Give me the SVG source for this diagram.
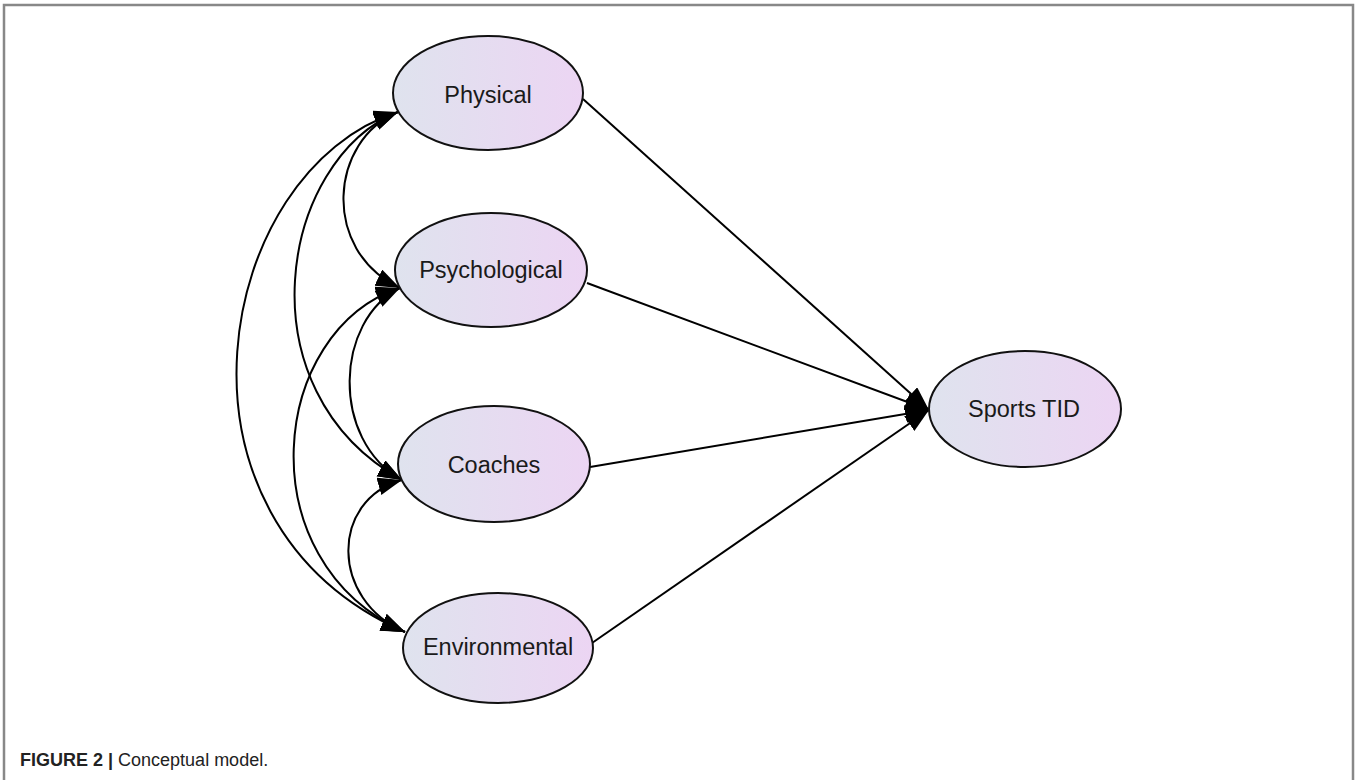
<svg xmlns="http://www.w3.org/2000/svg" width="1359" height="780" viewBox="0 0 1359 780">
<defs>
<linearGradient id="fillg" x1="0" y1="0" x2="1" y2="0">
<stop offset="0" stop-color="#dfe3ee"/>
<stop offset="1" stop-color="#ecd5f3"/>
</linearGradient>
<marker id="ah" markerUnits="userSpaceOnUse" markerWidth="26" markerHeight="20" refX="24" refY="9" orient="auto-start-reverse">
<path d="M0,0 L24,9 L0,18 z" fill="#000"/>
</marker>
<style>
.node ellipse{fill:url(#fillg);stroke:#111;stroke-width:2}
.node text{font-family:"Liberation Sans",Arial,sans-serif;font-size:23.5px;fill:#1a1a1a;text-anchor:middle}
.conn path,.conn line{fill:none;stroke:#000;stroke-width:2}
.cov{marker-start:url(#ah);marker-end:url(#ah)}
.reg{marker-end:url(#ah)}
</style>
</defs>
<rect x="0" y="0" width="1359" height="780" fill="#fff"/>
<path d="M4,782 L4,5 L1353,5 L1353,782" fill="none" stroke="#888" stroke-width="2.5"/>
<g id="connectors" class="conn">
<path class="cov" d="M398,112 C330,140 320,250 400,288"/>
<path class="cov" d="M398,112 C280,160 240,390 402,480"/>
<path class="cov" d="M398,112 C215,170 150,520 405,632"/>
<path class="cov" d="M400,288 C335,320 330,440 402,480"/>
<path class="cov" d="M400,288 C270,330 245,560 405,632"/>
<path class="cov" d="M402,480 C330,500 330,600 405,632"/>
<line class="reg" x1="583" y1="99" x2="929" y2="410"/>
<line class="reg" x1="587" y1="283" x2="929" y2="410"/>
<line class="reg" x1="590" y1="467" x2="929" y2="410"/>
<line class="reg" x1="592" y1="643" x2="929" y2="410"/>
</g>
<g id="physical" class="node"><ellipse cx="488" cy="93" rx="95" ry="57"/><text x="488" y="103">Physical</text></g>
<g id="psychological" class="node"><ellipse cx="491" cy="270" rx="96" ry="57"/><text x="491" y="278">Psychological</text></g>
<g id="coaches" class="node"><ellipse cx="494" cy="464" rx="96" ry="58"/><text x="494" y="473">Coaches</text></g>
<g id="environmental" class="node"><ellipse cx="498" cy="648" rx="95" ry="55"/><text x="498" y="655">Environmental</text></g>
<g id="sportstid" class="node"><ellipse cx="1025" cy="409" rx="96" ry="58"/><text x="1024" y="417">Sports TID</text></g>
<text x="20" y="766" font-family="'Liberation Sans',Arial,sans-serif" font-size="18" fill="#222"><tspan font-weight="bold">FIGURE 2 |</tspan> Conceptual model.</text>
</svg>
